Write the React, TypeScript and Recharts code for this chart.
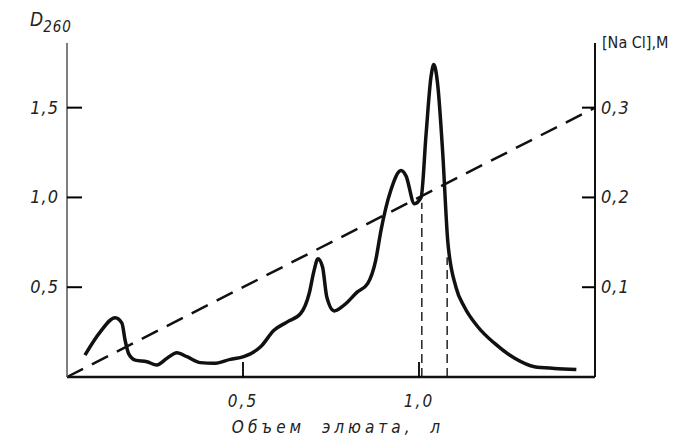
import React from 'react';
import {
  ComposedChart,
  Line,
  XAxis,
  YAxis,
  ReferenceLine,
  Label,
} from 'recharts';

// elution volume (l) vs optical density D260
const volume = [
  0.051, 0.094, 0.137, 0.156, 0.165, 0.175, 0.194, 0.227, 0.255, 0.284, 0.312, 0.341,
  0.379, 0.417, 0.464, 0.502, 0.55, 0.588, 0.626, 0.664, 0.688, 0.702, 0.713, 0.726,
  0.738, 0.759, 0.787, 0.825, 0.854, 0.877, 0.892, 0.92, 0.949, 0.963, 0.987, 1.006,
  1.02, 1.034, 1.042, 1.053, 1.067, 1.082, 1.105, 1.129, 1.167, 1.215, 1.272, 1.328,
  1.385, 1.447,
];
const density = [
  0.122, 0.25, 0.33, 0.3, 0.205, 0.13, 0.094, 0.085, 0.067, 0.104, 0.135, 0.113,
  0.08, 0.076, 0.098, 0.113, 0.168, 0.26, 0.307, 0.354, 0.465, 0.594, 0.659, 0.613,
  0.446, 0.368, 0.4, 0.474, 0.52, 0.65, 0.817, 1.04, 1.15, 1.12, 0.965, 1.0,
  1.35, 1.67, 1.74, 1.63, 1.26, 0.75, 0.5, 0.39, 0.28, 0.187, 0.104, 0.057,
  0.048, 0.042,
];

// NaCl gradient (M)
const gradientVolume = [0, 1.5];
const gradientNaCl = [0, 0.3];

// fraction boundaries
const cutVolume = [1.008, 1.08];
const cutDensity = [0.97, 0.667];

const xTicks = [0.5, 1.0];
const leftTicks = [0.5, 1.0, 1.5];
const rightTicks = [0.1, 0.2, 0.3];

const curveData = volume.map((x, i) => ({ x, d: density[i] }));
const gradientData = gradientVolume.map((x, i) => ({ x, c: gradientNaCl[i] }));

const comma = (v: number) => v.toFixed(1).replace('.', ',');
const FONT = "DejaVu Sans Condensed, DejaVu Sans, sans-serif";
const INK = '#222';

// ticks point inward, so draw the mark together with the label
const GAP = 6;

const LeftTick = (p: any) => (
  <g>
    <line x1={p.x + GAP} x2={p.x + GAP + 15} y1={p.y} y2={p.y} stroke="#000" strokeWidth={2} />
    <text x={p.x - 2} y={p.y} dy={6} textAnchor="end" fontFamily={FONT} fontStyle="italic"
      fontSize={18} letterSpacing={1} fill={INK}>
      {comma(p.payload.value)}
    </text>
  </g>
);

const RightTick = (p: any) => (
  <g>
    <line x1={p.x - GAP} x2={p.x - GAP - 13} y1={p.y} y2={p.y} stroke="#000" strokeWidth={2} />
    <text x={p.x} y={p.y} dy={6} textAnchor="start" fontFamily={FONT} fontStyle="italic"
      fontSize={18} letterSpacing={1} fill={INK}>
      {comma(p.payload.value)}
    </text>
  </g>
);

const BottomTick = (p: any) => (
  <g>
    <line x1={p.x} x2={p.x} y1={p.y - GAP} y2={p.y - GAP - 15} stroke="#000" strokeWidth={1.8} />
    <text x={p.x} y={p.y} dy={24} textAnchor="middle" fontFamily={FONT} fontStyle="italic"
      fontSize={17} letterSpacing={2} fill={INK}>
      {comma(p.payload.value)}
    </text>
  </g>
);

export default function App() {
  return (
    <div style={{ position: 'absolute', left: 0, top: 0 }}>
      <ComposedChart width={680} height={439} margin={{ top: 43, right: 0, bottom: 0, left: 0 }}>
        <XAxis
          type="number"
          dataKey="x"
          domain={[0, 1.5]}
          ticks={xTicks}
          tickLine={false}
          tickSize={0}
          tickMargin={GAP}
          height={62}
          stroke="#111"
          strokeWidth={2.5}
          tick={<BottomTick />}
          label={{
            value: 'Объем  элюата, л',
            position: 'insideBottom',
            offset: 6,
            dx: 7,
            style: { fontSize: 17, fontStyle: 'italic', fontFamily: FONT, fill: INK, letterSpacing: 4, wordSpacing: 8 },
          }}
        />
        <YAxis
          yAxisId="left"
          type="number"
          domain={[0, 1.86]}
          ticks={leftTicks}
          tickLine={false}
          tickSize={0}
          tickMargin={GAP}
          width={67}
          stroke="#555"
          strokeWidth={1.5}
          tick={<LeftTick />}
          label={{
            content: (p: any) => (
              <text
                x={p.viewBox.x + 30}
                y={p.viewBox.y - 17}
                fontFamily={FONT}
                fontStyle="italic"
                fontSize={19}
                fill={INK}
              >
                D
                <tspan dy={6} fontSize={15} letterSpacing={1}>260</tspan>
              </text>
            ),
          }}
        />
        <YAxis
          yAxisId="right"
          orientation="right"
          type="number"
          domain={[0, 0.372]}
          ticks={rightTicks}
          tickLine={false}
          tickSize={0}
          tickMargin={GAP}
          width={85}
          stroke="#111"
          strokeWidth={2}
          tick={<RightTick />}
          label={{
            content: (p: any) => (
              <text
                x={p.viewBox.x + 7}
                y={p.viewBox.y + 5}
                fontFamily={FONT}
                fontSize={16}
                fill={INK}
              >
                [Na Cl],M
              </text>
            ),
          }}
        />
        <Line
          yAxisId="right"
          data={gradientData}
          dataKey="c"
          type="linear"
          stroke="#111"
          strokeWidth={2.5}
          strokeDasharray="18 10"
          dot={false}
          activeDot={false}
          isAnimationActive={false}
        />
        <Line
          yAxisId="left"
          data={curveData}
          dataKey="d"
          type="monotone"
          stroke="#111"
          strokeWidth={3.5}
          dot={false}
          activeDot={false}
          isAnimationActive={false}
        />
        {cutVolume.map((v, i) => (
          <ReferenceLine
            key={i}
            yAxisId="left"
            segment={[{ x: v, y: 0 }, { x: v, y: cutDensity[i] }]}
            stroke={INK}
            strokeWidth={1.5}
            strokeDasharray="9 5"
          />
        ))}
      </ComposedChart>
    </div>
  );
}
